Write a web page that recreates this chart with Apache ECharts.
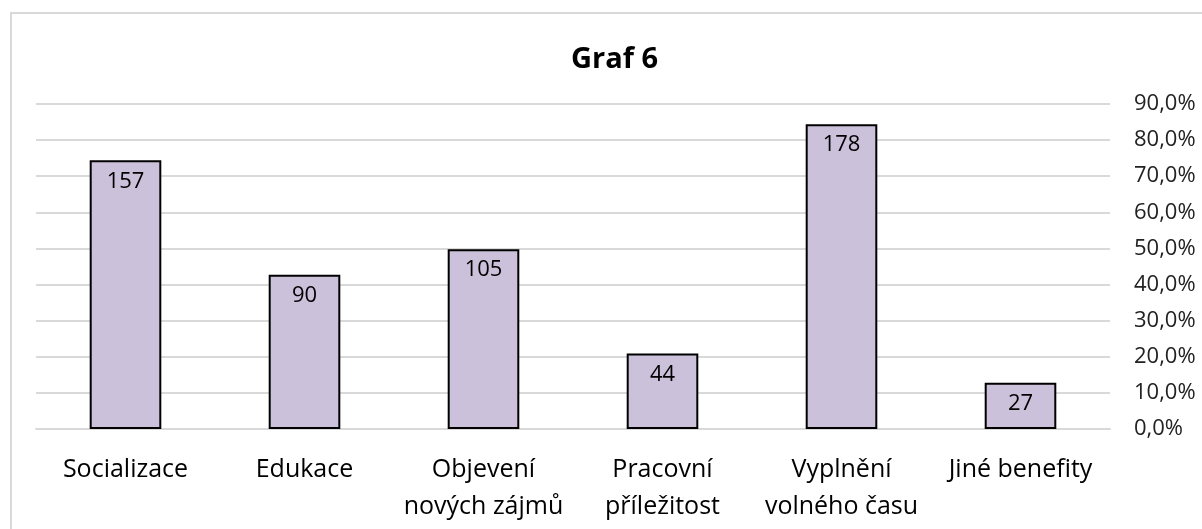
<!DOCTYPE html>
<html>
<head>
<meta charset="utf-8">
<script src="https://cdn.jsdelivr.net/npm/echarts@6/dist/echarts.min.js"></script>
<style>
html,body{margin:0;padding:0;background:#fff;}
#main{width:1202px;height:529px;}
</style>
</head>
<body>
<div id="main"></div>
<script>
// data
var categories = ['Socializace', 'Edukace', 'Objevení\nnových zájmů', 'Pracovní\npříležitost', 'Vyplnění\nvolného času', 'Jiné benefity'];
var counts = [157, 90, 105, 44, 178, 27];
var shares = [74.4, 42.7, 49.8, 20.9, 84.4, 12.8];

var font = '"Open Sans", "Liberation Sans", sans-serif';
var myChart = echarts.init(document.getElementById('main'));

var option = {
    animation: false,
    backgroundColor: '#fff',
    title: {
        text: 'Graf 6',
        left: 566,
        top: 40,
        textStyle: {fontFamily: font, fontSize: 29, fontWeight: 'bold', color: '#000'}
    },
    graphic: [{
        type: 'rect',
        shape: {x: 11, y: 13, width: 1250, height: 600},
        style: {fill: 'none', stroke: '#d9d9d9', lineWidth: 2}
    }],
    grid: {left: 36, right: 92, top: 104, bottom: 100},
    xAxis: {
        type: 'category',
        data: categories,
        axisTick: {show: false},
        axisLine: {lineStyle: {color: '#d9d9d9', width: 2}},
        axisLabel: {
            fontFamily: font, fontSize: 25, color: '#000',
            margin: 22, lineHeight: 37, interval: 0
        }
    },
    yAxis: {
        type: 'value',
        position: 'right',
        min: 0, max: 90, interval: 10,
        axisLine: {show: false},
        axisTick: {show: false},
        splitLine: {lineStyle: {color: '#d9d9d9', width: 2}},
        axisLabel: {
            fontFamily: font, fontSize: 22, color: '#222', margin: 24,
            formatter: function (v) { return v.toFixed(1).replace('.', ',') + '%'; }
        }
    },
    series: [{
        type: 'bar',
        data: shares,
        barWidth: '40%',
        itemStyle: {color: '#ccc1da', borderColor: '#000', borderWidth: 2},
        label: {
            show: true,
            position: 'insideTop',
            distance: 10,
            fontFamily: font, fontSize: 22, color: '#000',
            formatter: function (p) { return counts[p.dataIndex]; }
        }
    }]
};
myChart.setOption(option);
</script>
</body>
</html>
